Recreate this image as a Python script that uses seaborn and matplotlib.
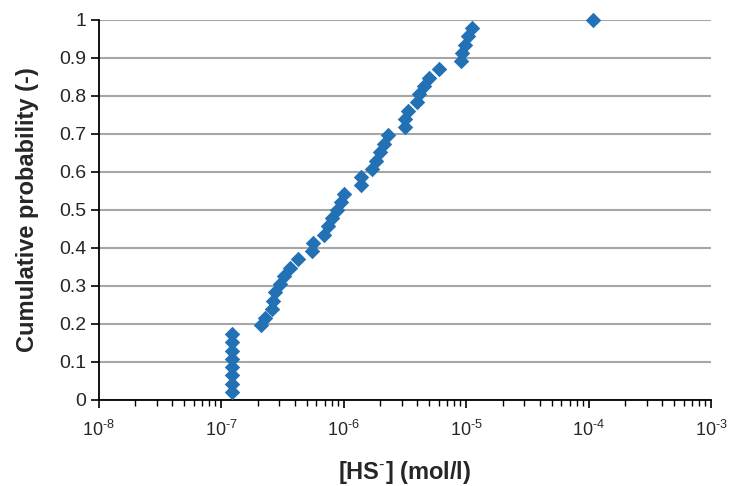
import matplotlib
matplotlib.use("Agg")
import matplotlib.pyplot as plt
import matplotlib.ticker as mticker
import seaborn as sns
import pandas as pd

# Concentration of HS- (mol/l), sorted
hs_conc = [1.24e-7, 1.24e-7, 1.24e-7, 1.24e-7, 1.24e-7, 1.24e-7, 1.24e-7, 1.24e-7,
           2.12e-7, 2.29e-7, 2.61e-7, 2.66e-7, 2.76e-7, 3.03e-7, 3.25e-7, 3.65e-7,
           4.24e-7, 5.50e-7, 5.61e-7, 6.89e-7, 7.42e-7, 8.00e-7, 8.78e-7, 9.63e-7,
           1.00e-6, 1.40e-6, 1.40e-6, 1.72e-6, 1.85e-6, 2.00e-6, 2.15e-6, 2.32e-6,
           3.18e-6, 3.18e-6, 3.37e-6, 3.98e-6, 4.13e-6, 4.54e-6, 4.98e-6, 6.00e-6,
           9.05e-6, 9.23e-6, 9.75e-6, 1.03e-5, 1.11e-5, 1.09e-4]
# Cumulative probability (-)
cum_prob = [0.022, 0.043, 0.065, 0.087, 0.109, 0.130, 0.152, 0.174, 0.196, 0.217,
            0.239, 0.261, 0.283, 0.304, 0.326, 0.348, 0.370, 0.391, 0.413, 0.435,
            0.457, 0.478, 0.500, 0.522, 0.543, 0.565, 0.587, 0.609, 0.630, 0.652,
            0.674, 0.696, 0.717, 0.739, 0.761, 0.783, 0.804, 0.826, 0.848, 0.870,
            0.891, 0.913, 0.935, 0.957, 0.978, 1.000]
x_ticks = [1e-8, 1e-7, 1e-6, 1e-5, 1e-4, 1e-3]
x_tick_labels = [r"$10^{\text{-8}}$", r"$10^{\text{-7}}$", r"$10^{\text{-6}}$",
                 r"$10^{\text{-5}}$", r"$10^{\text{-4}}$", r"$10^{\text{-3}}$"]
y_ticks = [0, 0.1, 0.2, 0.3, 0.4, 0.5, 0.6, 0.7, 0.8, 0.9, 1]
y_tick_labels = ["0", "0.1", "0.2", "0.3", "0.4", "0.5", "0.6", "0.7", "0.8", "0.9", "1"]

df = pd.DataFrame({"hs": hs_conc, "p": cum_prob})

sns.set_theme(style="white")
plt.rcParams["font.family"] = ["Liberation Sans", "DejaVu Sans"]
plt.rcParams["mathtext.fontset"] = "custom"
plt.rcParams["mathtext.rm"] = "Liberation Sans"
plt.rcParams["mathtext.it"] = "Liberation Sans:italic"
plt.rcParams["mathtext.bf"] = "Liberation Sans:bold"

fig = plt.figure(figsize=(7.3, 4.86), dpi=100)
ax = fig.add_axes([98.5 / 730, 0.177, 612.5 / 730, 0.782])

sns.scatterplot(data=df, x="hs", y="p", marker="D", s=62, color="#2271B5",
                edgecolor="#2271B5", linewidth=0, ax=ax, zorder=3, legend=False,
                clip_on=False)

ax.set_xscale("log")
ax.set_xlim(1e-8, 1e-3)
ax.set_ylim(0, 1)
ax.set_xticks(x_ticks)
ax.set_xticklabels(x_tick_labels)
ax.xaxis.set_minor_locator(mticker.LogLocator(base=10, subs=range(2, 10), numticks=20))
ax.xaxis.set_minor_formatter(mticker.NullFormatter())
ax.set_yticks(y_ticks)
ax.set_yticklabels(y_tick_labels)

ax.yaxis.grid(True, color="#A6A6A6", linewidth=1.5)
ax.xaxis.grid(False)
ax.set_axisbelow(True)

for s in ["top", "right"]:
    ax.spines[s].set_visible(False)
for s in ["left", "bottom"]:
    ax.spines[s].set_color("black")
    ax.spines[s].set_linewidth(1.3)

ax.tick_params(axis="x", which="major", direction="out", length=6, width=1.2,
               color="black", labelsize=13, pad=8, bottom=True)
ax.tick_params(axis="x", which="minor", direction="out", length=4, width=1.0,
               color="black", bottom=True)
ax.tick_params(axis="y", which="major", direction="out", length=6, width=1.2,
               color="black", labelsize=14, pad=3, left=True)

ax.set_xlabel(r"$\mathbf{[HS^{\text{-}}]\ (mol/l)}$", fontsize=17, labelpad=14)
ax.set_ylabel("Cumulative probability (-)", fontsize=17, fontweight="bold", labelpad=14)

fig.savefig("out.png", dpi=100, facecolor="white")
